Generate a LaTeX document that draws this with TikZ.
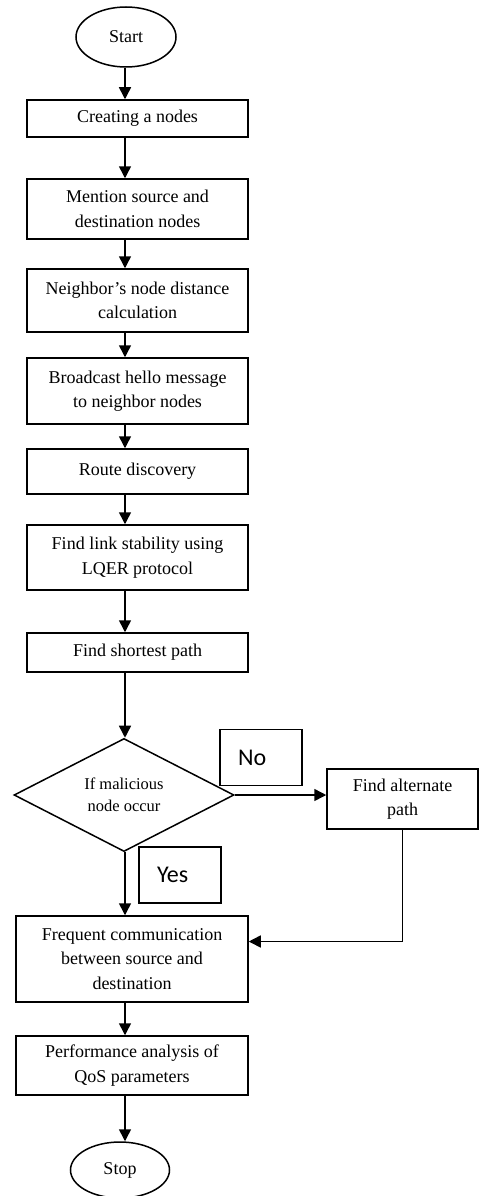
\documentclass[tikz,border=0pt]{standalone}
\usepackage{fontspec}
\setmainfont{Liberation Serif}
\newfontfamily\tagfont{Carlito}
\usetikzlibrary{shapes.geometric,arrows.meta,calc}

\begin{document}
\begin{tikzpicture}
        [x=1pt,y=-1pt,line width=1.5pt,
         box/.style={draw,rectangle,minimum width=221pt,align=center,
           inner sep=2pt,font=\fontsize{18}{24.5}\selectfont},
         term/.style={draw,ellipse,minimum width=100pt,minimum height=60pt,
           inner sep=0pt,font=\fontsize{18}{20}\selectfont},
         test/.style={draw,diamond,minimum width=220pt,minimum height=104pt,
           inner sep=0pt,align=center,font=\fontsize{16.5}{22}\selectfont},
         tag/.style={draw,rectangle,minimum width=82pt,minimum height=56pt,
           text width=46pt,inner xsep=18pt,align=left,
           font=\tagfont\fontsize{24}{28}\selectfont},
         arr/.style={-{Triangle[length=12pt,width=12pt]}}]
        \useasboundingbox (0,0) rectangle (479,1196);
        \coordinate (spine) at (125,0);

        \node[term] (start) at (126,37) {Start};
        \node[box,minimum height=37pt] (create) at (137.5,118.5) {Creating a nodes};
        \node[box,minimum height=60pt] (mention) at (137.5,209) {Mention source and\\destination nodes};
        \node[box,minimum height=63pt] (neigh) at (137.5,300.5) {Neighbor’s node distance\\calculation};
        \node[box,minimum height=66pt] (bcast) at (137.5,391) {Broadcast hello message\\to neighbor nodes};
        \node[box,minimum height=45pt] (route) at (137.5,471.5) {Route discovery};
        \node[box,minimum height=65pt] (link) at (137.5,557.5) {Find link stability using\\LQER protocol};
        \node[box,minimum height=39pt] (short) at (137.5,652.5) {Find shortest path};
        \node[test] (test) at (124,795) {If malicious\\node occur};
        \node[box,minimum width=151pt,minimum height=60pt] (alt) at (402.5,799) {Find alternate\\path};
        \node[tag] (no) at (261,757.5) {No};
        \node[tag] (yes) at (180,875) {Yes};
        \node[box,minimum width=232pt,minimum height=86pt] (freq) at (132,959) {Frequent communication\\between source and\\destination};
        \node[box,minimum width=232pt,minimum height=59pt] (perf) at (132,1065.5) {Performance analysis of\\QoS parameters};
        \node[term,minimum width=99pt,minimum height=56pt] (stop) at (120,1170) {Stop};

        \foreach \a/\b in {start/create,create/mention,mention/neigh,neigh/bcast,
          bcast/route,route/link,link/short,short/test,test/freq,freq/perf,perf/stop}
        {\draw[arr] (\a.south -| spine) -- (\b.north -| spine);}

        \draw[arr] (test.east) -- (test.east -| alt.west);
        \draw[arr] (alt.south) |- ($(freq.north east)!0.3!(freq.south east)$);
      \end{tikzpicture}
\end{document}
